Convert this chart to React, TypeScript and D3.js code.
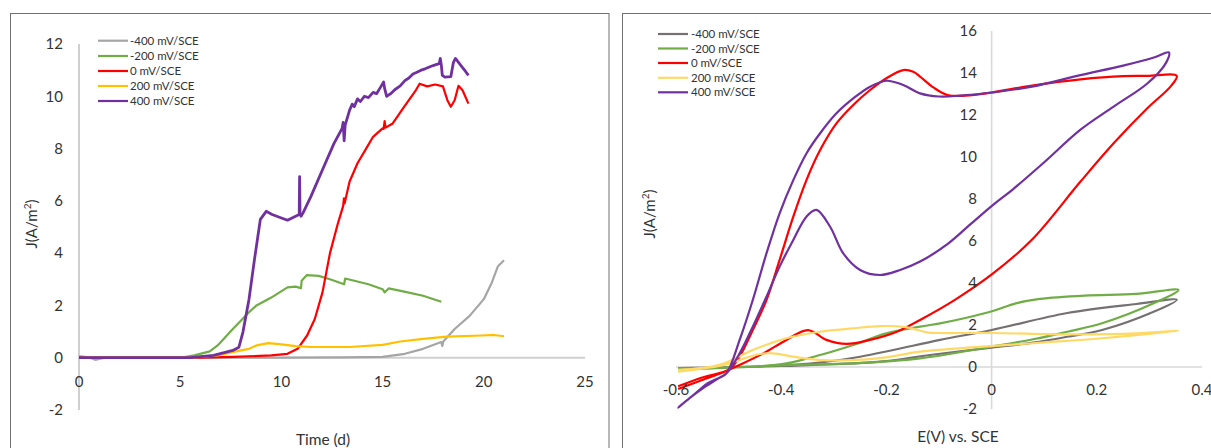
import React from 'react';
import * as d3 from 'd3';

type Pt = [number, number];

// ---------- shared ----------
const seriesLabels = ['-400 mV/SCE', '-200 mV/SCE', '0 mV/SCE', '200 mV/SCE', '400 mV/SCE'];
const leftColors = ['#A5A5A5', '#70AD47', '#FF0000', '#FFC000', '#7030A0'];
const rightColors = ['#767171', '#70AD47', '#FF0000', '#FFD966', '#7030A0'];

// ---------- left chart: chronoamperometry J vs time ----------
const timeTicks = [0, 5, 10, 15, 20, 25];
const jTicksLeft = [-2, 0, 2, 4, 6, 8, 10, 12];

const chronoM400: Pt[] = [
  [0, 0.06], [0.5, 0.01], [0.8, -0.08], [1.0, -0.05], [1.3, 0], [5, 0], [10, 0], [13, 0.01],
  [15, 0.03], [16.1, 0.15], [17, 0.34], [17.9, 0.6], [17.95, 0.45], [18.0, 0.62], [18.56, 1.1],
  [19.3, 1.6], [20.0, 2.24], [20.4, 2.88], [20.7, 3.5], [21.0, 3.73],
];
const chronoM200: Pt[] = [
  [0, 0], [5, 0], [5.7, 0.09], [6.46, 0.24], [6.85, 0.47], [7.6, 1.1], [8.4, 1.74], [8.77, 2.0],
  [9.5, 2.3], [10.3, 2.69], [10.7, 2.72], [10.97, 2.66], [11.0, 2.94], [11.26, 3.16], [11.84, 3.13],
  [12.4, 3.0], [13.1, 2.81], [13.15, 3.03], [14.3, 2.81], [15.0, 2.62], [15.1, 2.5], [15.3, 2.65],
  [16.07, 2.53], [17.0, 2.37], [17.9, 2.14],
];
const chrono0: Pt[] = [
  [0, 0], [6, 0], [7.6, 0.03], [9.5, 0.09], [10.3, 0.15], [10.8, 0.34], [11.27, 0.85], [11.65, 1.48],
  [12.03, 2.5], [12.4, 4.0], [12.8, 5.16], [13.05, 5.8], [13.09, 6.1], [13.12, 5.9], [13.37, 6.74],
  [13.76, 7.44], [14.15, 7.95], [14.53, 8.45], [15.0, 8.77], [15.05, 8.75], [15.1, 9.05], [15.15, 8.8],
  [15.5, 8.96], [16.07, 9.6], [16.64, 10.23], [16.83, 10.48], [17.2, 10.38], [17.6, 10.45],
  [17.98, 10.38], [18.2, 9.85], [18.37, 9.6], [18.56, 9.85], [18.75, 10.4], [18.95, 10.23], [19.24, 9.72],
];
const chrono200: Pt[] = [
  [0, 0], [5.5, 0], [6.85, 0.09], [8.0, 0.28], [8.4, 0.34], [8.77, 0.47], [9.35, 0.56], [9.9, 0.52],
  [10.7, 0.44], [11.46, 0.41], [13.37, 0.41], [15.0, 0.49], [15.87, 0.62], [17.0, 0.72], [18.17, 0.81],
  [19.9, 0.85], [20.5, 0.87], [21.0, 0.82],
];
const chrono400: Pt[] = [
  [0, 0], [5.5, 0], [6.65, 0.09], [7.6, 0.28], [7.9, 0.4], [8.1, 0.98], [8.4, 2.24], [8.67, 3.76],
  [8.96, 5.29], [9.25, 5.6], [9.54, 5.48], [10.3, 5.26], [10.88, 5.48], [10.9, 6.93], [10.92, 5.5],
  [10.97, 5.41], [11.07, 5.54], [11.46, 6.17], [12.03, 7.19], [12.6, 8.2], [13.0, 8.77], [13.05, 9.0],
  [13.1, 8.3], [13.15, 8.9], [13.37, 9.47], [13.5, 9.7], [13.6, 9.6], [13.76, 9.9], [13.9, 9.8],
  [14.1, 10.0], [14.3, 9.95], [14.53, 10.15], [14.7, 10.1], [14.9, 10.35], [15.05, 10.55], [15.1, 10.3],
  [15.2, 10.0], [15.4, 10.1], [15.6, 10.25], [15.87, 10.4], [16.1, 10.6], [16.3, 10.7], [16.5, 10.85],
  [16.64, 10.9], [16.9, 11.0], [17.1, 11.05], [17.4, 11.15], [17.6, 11.2], [17.8, 11.25], [17.85, 11.45],
  [17.9, 11.2], [17.95, 10.8], [18.08, 10.73], [18.37, 10.75], [18.5, 11.3], [18.6, 11.45], [18.75, 11.3],
  [18.95, 11.1], [19.1, 10.95], [19.24, 10.8],
];

// ---------- right chart: cyclic voltammetry J vs E ----------
const eTicks = [-0.6, -0.4, -0.2, 0, 0.2, 0.4];
const jTicksRight = [-2, 0, 2, 4, 6, 8, 10, 12, 14, 16];

const cvM400: Pt[] = [
  [-0.596, -0.1], [-0.5, -0.02], [-0.4, 0.05], [-0.3, 0.13], [-0.2, 0.28], [-0.117, 0.57], [0, 0.92],
  [0.079, 1.16], [0.144, 1.44], [0.21, 1.76], [0.308, 2.63], [0.352, 3.2],
  [0.275, 3.0], [0.144, 2.57], [0, 1.76], [-0.098, 1.29], [-0.187, 0.81], [-0.25, 0.49],
  [-0.314, 0.25], [-0.377, 0.1], [-0.45, 0.02], [-0.596, -0.05],
];
const cvM200: Pt[] = [
  [-0.596, -0.12], [-0.5, -0.03], [-0.377, 0.1], [-0.263, 0.17], [-0.136, 0.41], [0, 0.97],
  [0.079, 1.32], [0.144, 1.68], [0.21, 2.08], [0.308, 3.03], [0.355, 3.67],
  [0.275, 3.48], [0.177, 3.4], [0.092, 3.24], [0.046, 3.03], [0.004, 2.68], [-0.052, 2.32],
  [-0.098, 2.08], [-0.136, 1.92], [-0.2, 1.6], [-0.263, 1.05], [-0.326, 0.57], [-0.39, 0.17],
  [-0.454, 0.02], [-0.596, -0.06],
];
const cv0: Pt[] = [
  [-0.596, -0.92], [-0.55, -0.5], [-0.498, -0.1], [-0.479, 0.5], [-0.454, 1.76], [-0.428, 3.19],
  [-0.403, 5.1], [-0.377, 7.16], [-0.352, 8.9], [-0.326, 10.33], [-0.295, 11.6], [-0.263, 12.48],
  [-0.231, 13.19], [-0.2, 13.75], [-0.168, 14.14], [-0.149, 14.06], [-0.136, 13.83], [-0.11, 13.3],
  [-0.084, 12.95], [-0.05, 12.92], [0, 13.07], [0.077, 13.4], [0.169, 13.7], [0.25, 13.85],
  [0.296, 13.86], [0.352, 13.86], [0.34, 13.35], [0.296, 12.32], [0.232, 10.65], [0.169, 8.83],
  [0.077, 6.07], [0.004, 4.48], [-0.069, 3.21], [-0.136, 2.24], [-0.18, 1.68], [-0.231, 1.29],
  [-0.276, 1.1], [-0.314, 1.29], [-0.349, 1.76], [-0.39, 1.29], [-0.434, 0.65], [-0.479, 0.1],
  [-0.51, -0.25], [-0.55, -0.62], [-0.596, -1.05],
];
const cv200: Pt[] = [
  [-0.596, -0.14], [-0.517, 0.1], [-0.454, 0.81], [-0.39, 1.37], [-0.326, 1.68], [-0.263, 1.84],
  [-0.212, 1.95], [-0.161, 1.89], [-0.123, 1.65], [-0.098, 1.62], [0, 1.62], [0.15, 1.55],
  [0.275, 1.6], [0.355, 1.73],
  [0.21, 1.37], [0.079, 1.13], [-0.136, 0.73], [-0.2, 0.46], [-0.263, 0.33], [-0.326, 0.33],
  [-0.377, 0.49], [-0.415, 0.65], [-0.44, 0.62], [-0.472, 0.4], [-0.504, 0.12], [-0.596, -0.22],
];
const cv400: Pt[] = [
  [-0.542, -0.8], [-0.57, -1.4], [-0.596, -1.93], [-0.575, -1.5], [-0.545, -0.95], [-0.52, -0.55],
  [-0.504, -0.3], [-0.479, 1.29], [-0.454, 3.19], [-0.428, 5.41], [-0.403, 7.32], [-0.377, 8.9],
  [-0.352, 10.17], [-0.326, 11.13], [-0.295, 12.08], [-0.263, 12.79], [-0.231, 13.35], [-0.2, 13.63],
  [-0.168, 13.43], [-0.136, 13.03], [-0.1, 12.88], [-0.06, 12.92], [0, 13.07], [0.077, 13.35],
  [0.169, 13.9], [0.25, 14.35], [0.31, 14.75], [0.337, 14.98], [0.331, 14.46], [0.296, 13.5],
  [0.232, 12.4], [0.169, 11.3], [0.1, 9.75], [0.04, 8.45], [0.004, 7.74], [-0.04, 6.8], [-0.084, 5.85],
  [-0.136, 5.02], [-0.174, 4.62], [-0.212, 4.38], [-0.25, 4.62], [-0.282, 5.41], [-0.307, 6.68],
  [-0.333, 7.48], [-0.352, 7.16], [-0.377, 6.05], [-0.403, 4.78], [-0.428, 3.35], [-0.454, 1.92],
  [-0.479, 0.65], [-0.504, -0.3], [-0.525, -0.6], [-0.542, -0.8],
];

const chronoSeries = [chronoM400, chronoM200, chrono0, chrono200, chrono400];
const cvSeries = [cvM400, cvM200, cv0, cv200, cv400];

const FONT = 'Lato, "Open Sans", sans-serif';
const TXT = '#333333';

const fmtE = (v: number) => String(Math.round(v * 10) / 10);

export default function App() {
  // left scales
  const xL = d3.scaleLinear().domain([0, 25]).range([79, 585]);
  const yL = d3.scaleLinear().domain([-2, 12]).range([410, 44]);
  const lineL = d3.line<Pt>().x((d) => xL(d[0])).y((d) => yL(d[1]));

  // right scales
  const xR = d3.scaleLinear().domain([-0.6, 0.4]).range([676, 1202]);
  const yR = d3.scaleLinear().domain([-2, 16]).range([409, 31]);
  const lineR = d3
    .line<Pt>()
    .x((d) => xR(d[0]))
    .y((d) => yR(d[1]))
    .curve(d3.curveCatmullRom.alpha(0.5));

  const legendRowsL = [40.7, 56, 71, 86, 101];
  const legendRowsR = [34, 48.5, 63, 77.8, 92.3];

  return (
    <div style={{ position: 'fixed', left: 0, top: 0 }}>
      <svg width={1211} height={448} style={{ display: 'block', background: '#fff' }} fontFamily={FONT}>
        {/* panel borders */}
        <rect x={10.5} y={13.5} width={598.5} height={460} fill="none" stroke="#707070" strokeWidth={1} />
        <rect x={622.5} y={13.5} width={620} height={460} fill="none" stroke="#707070" strokeWidth={1} />

        {/* ===== LEFT CHART ===== */}
        <line x1={xL(0)} x2={xL(0)} y1={yL(12)} y2={yL(-2)} stroke="#CFCFCF" strokeWidth={2} />
        <line x1={xL(0)} x2={xL(25)} y1={yL(0)} y2={yL(0)} stroke="#CFCFCF" strokeWidth={2} />
        {jTicksLeft.map((t) => (
          <text key={'yl' + t} x={63} y={yL(t)} dy="0.35em" textAnchor="end" fontSize={15} fill={TXT}>
            {t}
          </text>
        ))}
        {timeTicks.map((t) => (
          <text key={'xl' + t} x={xL(t)} y={381.5} dy="0.35em" textAnchor="middle" fontSize={15} fill={TXT}>
            {t}
          </text>
        ))}
        <text x={323} y={439.5} dy="0.35em" textAnchor="middle" fontSize={15.5} fill={TXT}>
          Time (d)
        </text>
        <text transform="translate(32,224) rotate(-90)" textAnchor="middle" dy="0.35em" fontSize={15} fill={TXT}>
          J(A/m<tspan fontSize={10} dy="-6">2</tspan>
          <tspan dy="6">)</tspan>
        </text>
        {chronoSeries.map((s, i) => (
          <path
            key={'cl' + i}
            d={lineL(s) || ''}
            fill="none"
            stroke={leftColors[i]}
            strokeWidth={i === 4 ? 2.8 : 2.2}
            strokeLinejoin="round"
          />
        ))}
        {seriesLabels.map((lab, i) => (
          <g key={'lgl' + i}>
            <line x1={98} x2={128} y1={legendRowsL[i]} y2={legendRowsL[i]} stroke={leftColors[i]} strokeWidth={2.2} />
            <text x={130} y={legendRowsL[i]} dy="0.35em" fontSize={11.5} fill={TXT}>
              {lab}
            </text>
          </g>
        ))}

        {/* ===== RIGHT CHART ===== */}
        <line x1={xR(0)} x2={xR(0)} y1={yR(16)} y2={yR(-2)} stroke="#D9D9D9" strokeWidth={1.6} />
        <line x1={xR(-0.6)} x2={xR(0.4)} y1={yR(0)} y2={yR(0)} stroke="#D9D9D9" strokeWidth={1.6} />
        {cvSeries.map((s, i) => (
          <path
            key={'cv' + i}
            d={lineR(s) || ''}
            fill="none"
            stroke={rightColors[i]}
            strokeWidth={2.2}
            strokeLinejoin="round"
          />
        ))}
        {jTicksRight.map((t) => (
          <text key={'yr' + t} x={977} y={yR(t)} dy="0.35em" textAnchor="end" fontSize={15} fill={TXT}>
            {t}
          </text>
        ))}
        {eTicks.map((t) => (
          <text key={'xr' + t} x={xR(t)} y={390} dy="0.35em" textAnchor="middle" fontSize={15} fill={TXT}>
            {fmtE(t)}
          </text>
        ))}
        <text x={958} y={437} dy="0.35em" textAnchor="middle" fontSize={15.5} fill={TXT}>
          E(V) vs. SCE
        </text>
        <text transform="translate(650,214) rotate(-90)" textAnchor="middle" dy="0.35em" fontSize={15} fill={TXT}>
          J(A/m<tspan fontSize={10} dy="-6">2</tspan>
          <tspan dy="6">)</tspan>
        </text>
        {seriesLabels.map((lab, i) => (
          <g key={'lgr' + i}>
            <line x1={658} x2={688} y1={legendRowsR[i]} y2={legendRowsR[i]} stroke={rightColors[i]} strokeWidth={2.2} />
            <text x={691} y={legendRowsR[i]} dy="0.35em" fontSize={11.5} fill={TXT}>
              {lab}
            </text>
          </g>
        ))}
      </svg>
    </div>
  );
}
